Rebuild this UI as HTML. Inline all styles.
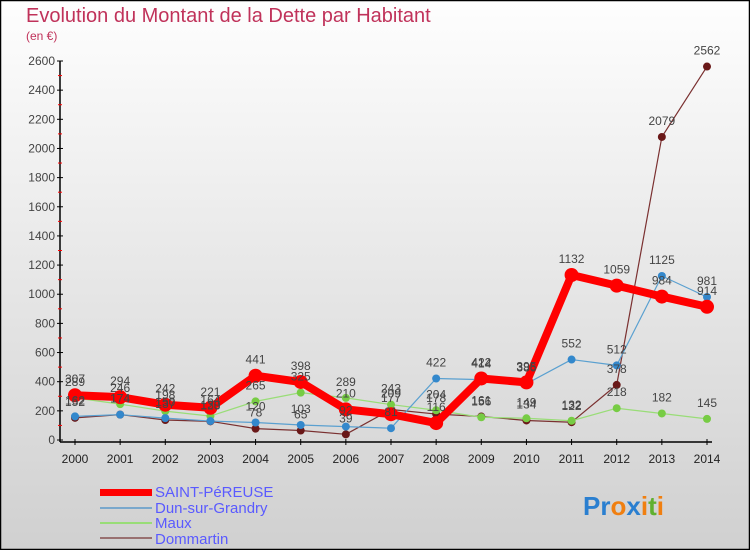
<!DOCTYPE html>
<html><head><meta charset="utf-8"><style>
html,body{margin:0;padding:0;}
body{width:750px;height:550px;overflow:hidden;font-family:"Liberation Sans",sans-serif;}
</style></head><body>
<svg width="750" height="550" xmlns="http://www.w3.org/2000/svg" id="svg">
<defs><linearGradient id="bg" x1="0" y1="0" x2="0" y2="1"><stop offset="0" stop-color="#fefefe"/><stop offset="1" stop-color="#d0d0d0"/></linearGradient></defs>
<rect x="0.5" y="0.5" width="749" height="549" fill="url(#bg)" stroke="#000" stroke-width="1.5"/>
<text x="26" y="22" font-size="20" fill="#c0325a" font-weight="300">Evolution du Montant de la Dette par Habitant</text>
<text x="26" y="40" font-size="12" fill="#c0325a">(en €)</text>
<g id="axes"></g><g id="series"></g><g id="labels"></g>
<g>
<rect x="100" y="489" width="52" height="7" fill="#f00"/>
<text x="155" y="497" font-size="15" fill="#5a5aff">SAINT-PéREUSE</text>
<rect x="100" y="507" width="52" height="2" fill="#7aa8cc"/>
<text x="155" y="513" font-size="15" fill="#5a5aff">Dun-sur-Grandry</text>
<rect x="100" y="522" width="52" height="2" fill="#99dd77"/>
<text x="155" y="528" font-size="15" fill="#5a5aff">Maux</text>
<rect x="100" y="537" width="52" height="2" fill="#997070"/>
<text x="155" y="544" font-size="15" fill="#5a5aff">Dommartin</text>
</g>
<text x="583" y="515" font-size="26" font-weight="bold"><tspan fill="#2a7fd0">Pr</tspan><tspan fill="#f07f10">o</tspan><tspan fill="#2a7fd0">x</tspan><tspan fill="#f07f10">i</tspan><tspan fill="#60b030">t</tspan><tspan fill="#f07f10">i</tspan></text>
</svg>
<script>
const years=[2000,2001,2002,2003,2004,2005,2006,2007,2008,2009,2010,2011,2012,2013,2014];
const yTicks=[0,200,400,600,800,1000,1200,1400,1600,1800,2000,2200,2400,2600];
const saint=[307,294,242,221,441,398,210,177,116,422,395,1132,1059,984,914];
const dun=[162,174,150,130,120,103,92,81,422,414,386,552,512,1125,981];
const maux=[289,246,198,164,265,325,289,243,204,156,149,132,218,182,145];
const domm=[152,174,137,128,78,65,39,209,178,161,134,122,378,2079,2562];
const NS='http://www.w3.org/2000/svg';
const xS=i=>75+i*(707-75)/14;
const yS=v=>440-v*(440-61)/2600;
function mk(t,a,p){const e=document.createElementNS(NS,t);for(const k in a)e.setAttribute(k,a[k]);p.appendChild(e);return e;}
const ax=document.getElementById('axes');
let l=mk('line',{x1:60,y1:61,x2:60,y2:442,stroke:'#000','stroke-width':1.5},ax);


l=mk('line',{x1:60,y1:442,x2:712,y2:442,stroke:'#000','stroke-width':1.5},ax);


yTicks.forEach(v=>{mk('line',{x1:57,x2:63,y1:yS(v),y2:yS(v),stroke:'#000'},ax);
if(v<2600)mk('line',{x1:58,x2:62,y1:yS(v+100),y2:yS(v+100),stroke:'#f00'},ax);
const t=mk('text',{x:55,y:yS(v)+4,'font-size':12,'text-anchor':'end',fill:'#444'},ax);t.textContent=v;

});
years.forEach((y,i)=>{mk('line',{x1:xS(i),x2:xS(i),y1:439,y2:445,stroke:'#000'},ax);
const t=mk('text',{x:xS(i),y:463,'font-size':12,'text-anchor':'middle',fill:'#222'},ax);t.textContent=y;

});
const sg=document.getElementById('series'),lg=document.getElementById('labels');
function draw(d,name,color,w,r,dot){
const p=mk('polyline',{points:d.map((v,i)=>xS(i)+','+yS(v)).join(' '),fill:'none',stroke:color,'stroke-width':w,'stroke-linejoin':'round'},sg);


d.forEach((v,i)=>{const c=mk('circle',{cx:xS(i),cy:yS(v),r:r,fill:dot},sg);


const t=mk('text',{x:xS(i),y:yS(v)-12,'font-size':12,'text-anchor':'middle',fill:'#444'},lg);t.textContent=v;

});}
draw(domm,'dommartin','#7a3030',1.2,4,'#6a1818');
draw(maux,'maux','#99dd77',1.2,4,'#77cc44');
draw(dun,'dun-sur-grandry','#5aa0d0',1.2,4,'#3388cc');
draw(saint,'saint-pereuse','#f00',8,7,'#f00');
</script>
</body></html>
